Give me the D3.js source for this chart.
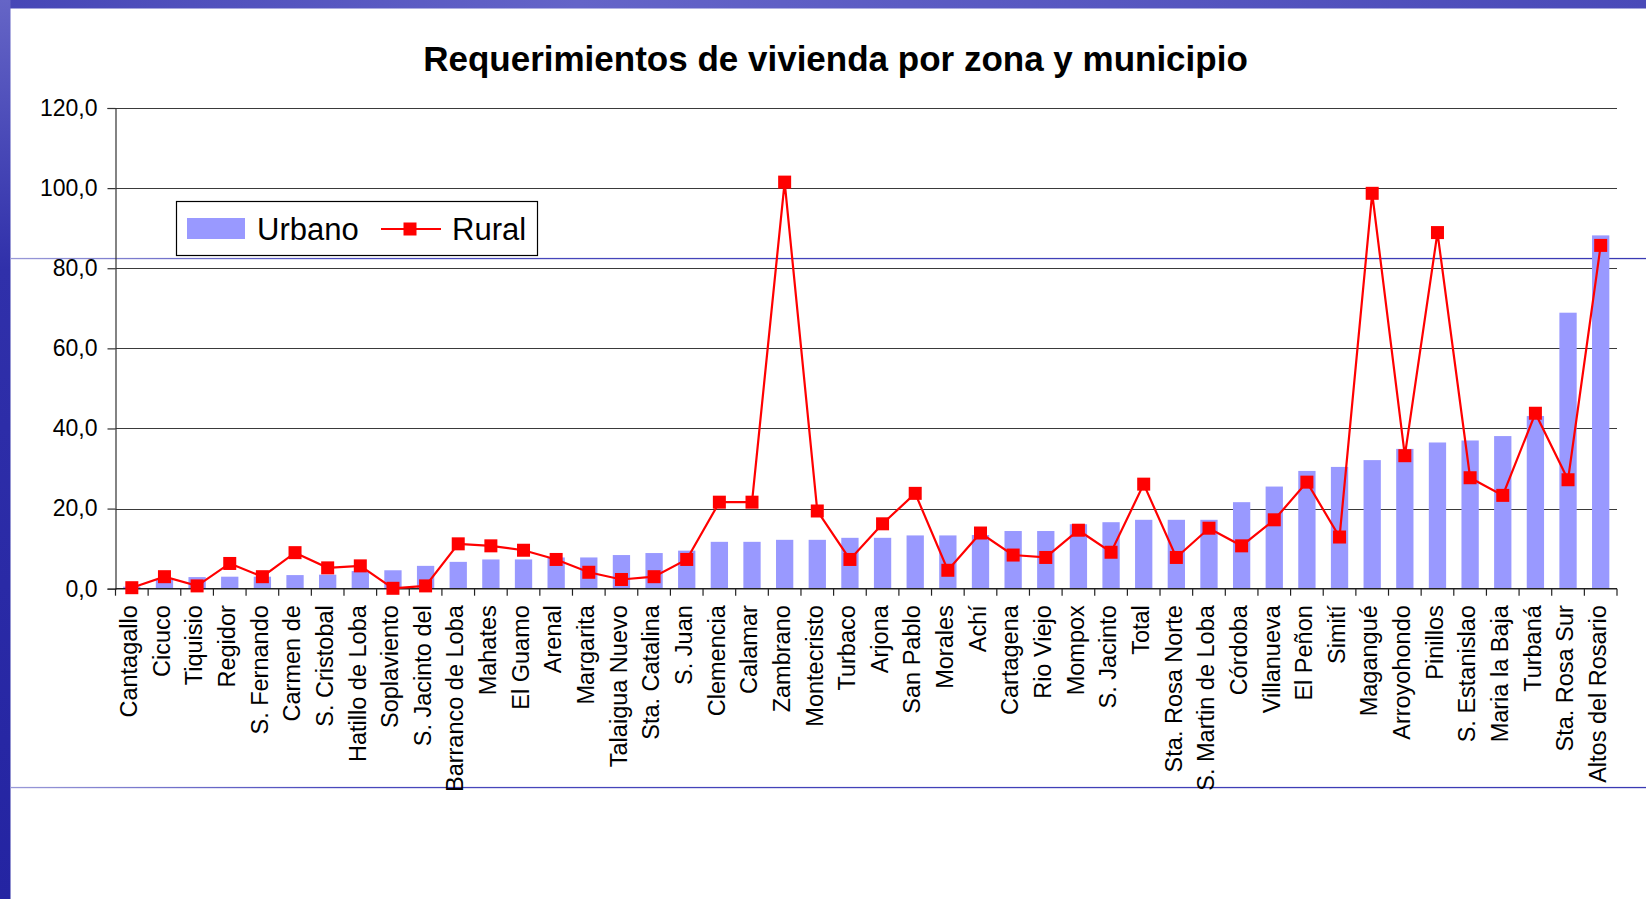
<!DOCTYPE html>
<html>
<head>
<meta charset="utf-8">
<script src="https://cdn.jsdelivr.net/npm/d3@7/dist/d3.min.js"></script>
<style>
  body { margin: 0; background: #fff; overflow: hidden; }
  text { font-family: "Liberation Sans", Arial, sans-serif; }
</style>
</head>
<body>
<script>
const municipios = ["Cantagallo", "Cicuco", "Tiquisio", "Regidor", "S. Fernando", "Carmen de", "S. Cristobal",
  "Hatillo de Loba", "Soplaviento", "S. Jacinto del", "Barranco de Loba", "Mahates", "El Guamo", "Arenal",
  "Margarita", "Talaigua Nuevo", "Sta. Catalina", "S. Juan", "Clemencia", "Calamar", "Zambrano", "Montecristo",
  "Turbaco", "Arjona", "San Pablo", "Morales", "Achí", "Cartagena", "Rio Viejo", "Mompox", "S. Jacinto", "Total",
  "Sta. Rosa Norte", "S. Martin de Loba", "Córdoba", "Villanueva", "El Peñon", "Simití", "Magangué",
  "Arroyohondo", "Pinillos", "S. Estanislao", "Maria la Baja", "Turbaná", "Sta. Rosa Sur", "Altos del Rosario"];

const urbano = [0.5, 2.3, 2.9, 3.0, 3.0, 3.4, 3.5, 4.4, 4.6, 5.7, 6.7, 7.3, 7.3, 7.8, 7.8, 8.4, 8.9, 9.5,
  11.7, 11.7, 12.2, 12.2, 12.7, 12.7, 13.3, 13.3, 13.4, 14.4, 14.4, 16.1, 16.6, 17.2, 17.2, 17.2, 21.6,
  25.5, 29.4, 30.4, 32.1, 34.9, 36.5, 37.0, 38.1, 43.1, 68.9, 88.2];

const rural = [0.25, 3.0, 0.7, 6.3, 3.0, 9.0, 5.2, 5.7, 0.1, 0.7, 11.2, 10.7, 9.6, 7.3, 4.1, 2.3, 3.0, 7.3,
  21.6, 21.6, 101.5, 19.4, 7.3, 16.2, 23.8, 4.6, 13.9, 8.4, 7.8, 14.6, 9.1, 26.1, 7.8, 15.1, 10.7,
  17.2, 26.6, 12.9, 98.7, 33.2, 88.9, 27.7, 23.3, 43.8, 27.2, 85.7];

const yTicks = [0, 20, 40, 60, 80, 100, 120];
const seriesNames = ["Urbano", "Rural"];

const W = 1646, H = 899;
const plotLeft = 115.5, plotRight = 1617, plotTop = 108, plotBottom = 588.7;

const svg = d3.select("body").append("svg").attr("width", W).attr("height", H);

// slide background
const defs = svg.append("defs");
const gSide = defs.append("linearGradient").attr("id", "side").attr("x1", 0).attr("x2", 0).attr("y1", 0).attr("y2", 1);
gSide.append("stop").attr("offset", "0%").attr("stop-color", "#6565c6");
gSide.append("stop").attr("offset", "30%").attr("stop-color", "#3030aa");
gSide.append("stop").attr("offset", "100%").attr("stop-color", "#2424a2");
const gTop = defs.append("linearGradient").attr("id", "topband").attr("x1", 0).attr("x2", 1).attr("y1", 0).attr("y2", 0);
gTop.append("stop").attr("offset", "0%").attr("stop-color", "#4646b6");
gTop.append("stop").attr("offset", "35%").attr("stop-color", "#6464c8");
gTop.append("stop").attr("offset", "100%").attr("stop-color", "#4a4ab8");
const gLine = defs.append("linearGradient").attr("id", "hline").attr("x1", 0).attr("x2", 1).attr("y1", 0).attr("y2", 0);
gLine.append("stop").attr("offset", "0%").attr("stop-color", "#9a9ad8");
gLine.append("stop").attr("offset", "20%").attr("stop-color", "#4848bc");
gLine.append("stop").attr("offset", "100%").attr("stop-color", "#3a3ab4");

svg.append("rect").attr("x", 0).attr("y", 0).attr("width", W).attr("height", 8.5).attr("fill", "url(#topband)");
svg.append("rect").attr("x", 0).attr("y", 0).attr("width", 10.5).attr("height", H).attr("fill", "url(#side)");
[258.5, 787.5].forEach(yy => {
  svg.append("rect").attr("x", 10.5).attr("y", yy - 0.6).attr("width", W - 10.5).attr("height", 1.3).attr("fill", "url(#hline)");
});

// scales
const x = d3.scaleBand().domain(municipios).range([plotLeft, plotRight]).paddingInner(0.47).paddingOuter(0.235);
const y = d3.scaleLinear().domain([0, 120]).range([plotBottom, plotTop]);
const fmt = d3.formatLocale({ decimal: ",", thousands: ".", grouping: [3], currency: ["$", ""] }).format(".1f");

// gridlines
svg.append("g")
  .selectAll("line").data(yTicks.slice(1)).join("line")
  .attr("x1", plotLeft).attr("x2", plotRight)
  .attr("y1", d => Math.round(y(d)) + 0.5).attr("y2", d => Math.round(y(d)) + 0.5)
  .attr("stroke", "#3a3a3a").attr("stroke-width", 1.2);

// bars
svg.append("g")
  .selectAll("rect").data(municipios).join("rect")
  .attr("x", d => x(d))
  .attr("width", x.bandwidth())
  .attr("y", (d, i) => y(urbano[i]))
  .attr("height", (d, i) => y(0) - y(urbano[i]))
  .attr("fill", "#9999ff");

// y axis
const yAxis = svg.append("g").attr("transform", `translate(${plotLeft},0)`)
  .call(d3.axisLeft(y).tickValues(yTicks).tickSize(8).tickPadding(10).tickFormat(fmt));
yAxis.select(".domain").attr("stroke", "#333").attr("stroke-width", 1.2);
yAxis.selectAll(".tick line").attr("stroke", "#333").attr("stroke-width", 1.2);
yAxis.selectAll(".tick text").attr("font-size", 23).attr("fill", "#000")
  .style("font-family", "'Liberation Sans', Arial, sans-serif");

// x axis
const step = x.step();
const xAxis = svg.append("g").attr("transform", `translate(0,${plotBottom})`);
xAxis.append("line").attr("x1", plotLeft).attr("x2", plotRight).attr("y1", 0).attr("y2", 0)
  .attr("stroke", "#222").attr("stroke-width", 1.4);
xAxis.selectAll("line.tk").data(d3.range(municipios.length + 1)).join("line")
  .attr("class", "tk")
  .attr("x1", i => plotLeft + i * step).attr("x2", i => plotLeft + i * step)
  .attr("y1", 0).attr("y2", 7)
  .attr("stroke", "#222").attr("stroke-width", 1.2);
xAxis.selectAll("text").data(municipios).join("text")
  .attr("transform", d => `translate(${x(d) + x.bandwidth() / 2 - 3},${16.5}) rotate(-90)`)
  .attr("text-anchor", "end")
  .attr("dy", "0.35em")
  .attr("font-size", 23.5)
  .attr("fill", "#000")
  .text(d => d);

// rural line
const cx = d => x(d) + x.bandwidth() / 2;
svg.append("path")
  .datum(municipios)
  .attr("fill", "none")
  .attr("stroke", "#ff0000")
  .attr("stroke-width", 2.2)
  .attr("d", d3.line().x(d => cx(d)).y((d, i) => y(rural[i])));
svg.append("g")
  .selectAll("rect").data(municipios).join("rect")
  .attr("x", d => cx(d) - 6.5)
  .attr("y", (d, i) => y(rural[i]) - 6.5)
  .attr("width", 13).attr("height", 13)
  .attr("fill", "#ff0000");

// legend
const lg = svg.append("g");
lg.append("rect").attr("x", 176.5).attr("y", 201.5).attr("width", 361).attr("height", 54)
  .attr("fill", "#fff").attr("stroke", "#000").attr("stroke-width", 1.2);
lg.append("rect").attr("x", 187).attr("y", 218).attr("width", 58).attr("height", 21).attr("fill", "#9999ff");
lg.append("text").attr("x", 257).attr("y", 240).attr("font-size", 31).text(seriesNames[0]);
lg.append("line").attr("x1", 381).attr("x2", 441).attr("y1", 229).attr("y2", 229)
  .attr("stroke", "#ff0000").attr("stroke-width", 2.2);
lg.append("rect").attr("x", 403.5).attr("y", 222.5).attr("width", 13).attr("height", 13).attr("fill", "#ff0000");
lg.append("text").attr("x", 452).attr("y", 240).attr("font-size", 31).text(seriesNames[1]);

// title
svg.append("text")
  .attr("x", 835.5).attr("y", 71)
  .attr("text-anchor", "middle")
  .attr("font-size", 35)
  .attr("font-weight", "bold")
  .attr("fill", "#000")
  .text("Requerimientos de vivienda por zona y municipio");
</script>
</body>
</html>
